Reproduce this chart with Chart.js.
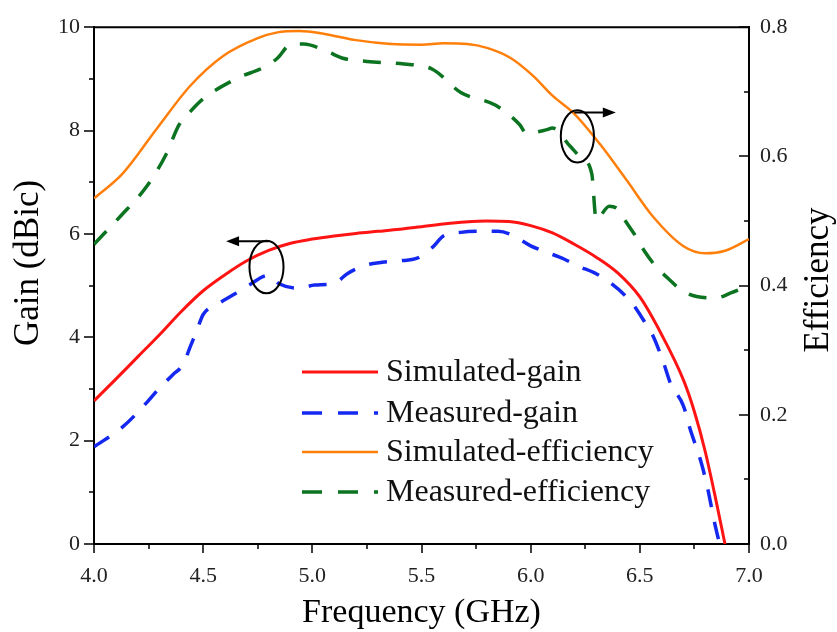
<!DOCTYPE html>
<html>
<head>
<meta charset="utf-8">
<title>Gain and efficiency</title>
<script src="https://cdn.jsdelivr.net/npm/chart.js@4.4.1/dist/chart.umd.min.js"></script>
<style>
  html, body { margin: 0; padding: 0; background: #fff; }
  #chart { display: block; }
</style>
</head>
<body>
<canvas id="chart" width="837" height="632"></canvas>
<script>
// simulated gain (dBic)
const simGainFreq = [4.0, 4.1, 4.2, 4.3, 4.4, 4.5, 4.6, 4.7, 4.8, 4.9, 5.0, 5.1, 5.2, 5.3, 5.4, 5.5, 5.6, 5.7, 5.8, 5.9,
  6.0, 6.1, 6.2, 6.3, 6.4, 6.5, 6.6, 6.7, 6.75, 6.8, 6.85, 6.89];
const simGain = [2.77, 3.19, 3.62, 4.05, 4.50, 4.90, 5.21, 5.48, 5.68, 5.82, 5.90, 5.96, 6.01, 6.05, 6.09, 6.14, 6.19, 6.23, 6.25, 6.24,
  6.16, 6.02, 5.80, 5.55, 5.24, 4.78, 4.05, 3.17, 2.56, 1.78, 0.82, 0.0];

// measured gain (dBic)
const measGainFreq = [4.0, 4.13, 4.24, 4.3, 4.36, 4.41, 4.44, 4.47, 4.5, 4.57, 4.65, 4.71, 4.8, 4.85, 4.94, 5.01, 5.1, 5.16,
  5.24, 5.32, 5.4, 5.48, 5.55, 5.6, 5.68, 5.77, 5.85, 5.91, 6.0, 6.07, 6.15, 6.21, 6.3, 6.36, 6.43, 6.47, 6.52, 6.56,
  6.61, 6.64, 6.7, 6.73, 6.78, 6.81, 6.84, 6.865];
const measGain = [1.88, 2.26, 2.73, 3.02, 3.27, 3.49, 3.81, 4.12, 4.44, 4.65, 4.85, 5.01, 5.20, 5.03, 4.95, 5.01, 5.04, 5.23,
  5.39, 5.45, 5.48, 5.53, 5.74, 5.96, 6.03, 6.05, 6.05, 5.99, 5.77, 5.65, 5.52, 5.39, 5.23, 5.07, 4.82, 4.63, 4.31, 4.03,
  3.49, 3.11, 2.67, 2.23, 1.59, 1.09, 0.46, 0.0];

// simulated radiation efficiency
const simEffFreq = [4.0, 4.13, 4.29, 4.44, 4.59, 4.75, 4.84, 4.94, 5.05, 5.2, 5.36, 5.5, 5.6, 5.71, 5.8, 5.91, 6.01, 6.1,
  6.2, 6.32, 6.44, 6.56, 6.7, 6.8, 6.89, 7.0];
const simEff = [0.535, 0.573, 0.644, 0.709, 0.755, 0.783, 0.792, 0.794, 0.790, 0.780, 0.774, 0.773, 0.775, 0.774, 0.768, 0.752,
  0.725, 0.694, 0.666, 0.618, 0.563, 0.507, 0.461, 0.450, 0.454, 0.472];

// measured radiation efficiency
const measEffFreq = [4.0, 4.12, 4.24, 4.33, 4.39, 4.44, 4.5, 4.65, 4.79, 4.84, 4.9, 4.96, 5.07, 5.14, 5.25, 5.42, 5.55, 5.68,
  5.84, 5.95, 5.98, 6.07, 6.1, 6.18, 6.23, 6.28, 6.3, 6.36, 6.4, 6.43, 6.48, 6.52, 6.58, 6.63, 6.69, 6.76, 6.85, 6.92, 7.0];
const measEff = [0.464, 0.507, 0.553, 0.603, 0.649, 0.669, 0.689, 0.720, 0.740, 0.752, 0.773, 0.774, 0.762, 0.752, 0.747, 0.743,
  0.735, 0.699, 0.679, 0.649, 0.636, 0.641, 0.644, 0.616, 0.598, 0.573, 0.502, 0.523, 0.518, 0.502, 0.477, 0.454, 0.427,
  0.411, 0.393, 0.383, 0.381, 0.389, 0.400];

// axis ticks
const freqTicks = [4.0, 4.5, 5.0, 5.5, 6.0, 6.5, 7.0];
const gainTicks = [0, 2, 4, 6, 8, 10];
const effTicks = [0, 0.2, 0.4, 0.6, 0.8];

// ellipse + arrow markers pointing at the axis each pair belongs to
const markers = [
  { axis: 'y', cx: 4.79, cy: 5.36, rx: 0.078, ry: 0.51, arrowY: 5.86, arrowFrom: 4.80, arrowTo: 4.605 },
  { axis: 'y2', cx: 6.214, cy: 0.631, rx: 0.076, ry: 0.0405, arrowY: 0.668, arrowFrom: 6.20, arrowTo: 6.39 }
];

const serif = '"Liberation Serif", "Times New Roman", serif';
const lineDash = [18, 15];
const legendDash = [20, 16];

function pairs(xs, ys) {
  return xs.map((x, i) => ({ x: x, y: ys[i] }));
}

function drawArrow(ctx, x1, y, x2) {
  const dir = Math.sign(x2 - x1);
  ctx.beginPath();
  ctx.moveTo(x1, y);
  ctx.lineTo(x2 - dir * 8, y);
  ctx.stroke();
  ctx.beginPath();
  ctx.moveTo(x2, y);
  ctx.lineTo(x2 - dir * 13, y - 5);
  ctx.lineTo(x2 - dir * 13, y + 5);
  ctx.closePath();
  ctx.fill();
}

const frameAndTicks = {
  id: 'frameAndTicks',
  afterDraw(chart) {
    const { ctx, chartArea: a, scales } = chart;
    ctx.save();
    ctx.strokeStyle = '#000';
    ctx.fillStyle = '#000';
    ctx.lineWidth = 2;

    // top edge of the frame
    ctx.beginPath();
    ctx.moveTo(a.left - 1, a.top);
    ctx.lineTo(a.right + 1, a.top);
    ctx.stroke();

    ctx.lineWidth = 1.5;
    ctx.beginPath();
    // frequency ticks, outward
    for (let i = 0; i <= 12; i++) {
      const px = Math.round(scales.x.getPixelForValue(4 + i * 0.25));
      ctx.moveTo(px, a.bottom);
      ctx.lineTo(px, a.bottom + (i % 2 === 0 ? 9 : 5));
    }
    // gain ticks, outward
    for (let i = 0; i <= 10; i++) {
      const py = Math.round(scales.y.getPixelForValue(i));
      ctx.moveTo(a.left, py);
      ctx.lineTo(a.left - (i % 2 === 0 ? 10 : 5), py);
    }
    // efficiency ticks, inward
    for (let i = 0; i <= 8; i++) {
      const py = Math.round(scales.y2.getPixelForValue(i * 0.1));
      ctx.moveTo(a.right, py);
      ctx.lineTo(a.right - (i % 2 === 0 ? 10 : 5), py);
    }
    ctx.stroke();

    // ellipses and arrows
    ctx.lineWidth = 2;
    markers.forEach(m => {
      const ys = scales[m.axis];
      const cx = scales.x.getPixelForValue(m.cx);
      const cy = ys.getPixelForValue(m.cy);
      const rx = Math.abs(scales.x.getPixelForValue(m.cx + m.rx) - cx);
      const ry = Math.abs(ys.getPixelForValue(m.cy + m.ry) - cy);
      ctx.beginPath();
      ctx.ellipse(cx, cy, rx, ry, 0, 0, Math.PI * 2);
      ctx.stroke();
      drawArrow(ctx, scales.x.getPixelForValue(m.arrowFrom), ys.getPixelForValue(m.arrowY),
        scales.x.getPixelForValue(m.arrowTo));
    });

    // vertical axis titles, both reading bottom to top
    ctx.font = '35px ' + serif;
    ctx.textAlign = 'center';
    ctx.textBaseline = 'middle';
    ctx.save();
    ctx.translate(29, 263);
    ctx.rotate(-Math.PI / 2);
    ctx.fillText('Gain (dBic)', 0, 0);
    ctx.restore();
    ctx.save();
    ctx.translate(819, 280);
    ctx.rotate(-Math.PI / 2);
    ctx.fillText('Efficiency', 0, 0);
    ctx.restore();

    ctx.restore();
  }
};

// legend inside the plot, lower middle
const innerLegend = {
  id: 'innerLegend',
  afterDraw(chart) {
    const { ctx } = chart;
    const rows = [372, 413, 452, 492];
    ctx.save();
    ctx.font = '32px ' + serif;
    ctx.textBaseline = 'middle';
    ctx.textAlign = 'left';
    chart.data.datasets.forEach((ds, i) => {
      const y = rows[i];
      ctx.strokeStyle = ds.borderColor;
      ctx.lineWidth = ds.borderWidth;
      ctx.setLineDash(ds.borderDash ? legendDash : []);
      ctx.beginPath();
      ctx.moveTo(302, y);
      ctx.lineTo(378, y);
      ctx.stroke();
      ctx.setLineDash([]);
      ctx.fillStyle = '#111';
      ctx.fillText(ds.label, 386, y + 1);
    });
    ctx.restore();
  }
};

const tickFont = { family: serif, size: 22 };

new Chart(document.getElementById('chart'), {
  type: 'line',
  data: {
    datasets: [
      {
        label: 'Simulated-gain',
        data: pairs(simGainFreq, simGain),
        yAxisID: 'y',
        borderColor: '#ff1414',
        borderWidth: 3
      },
      {
        label: 'Measured-gain',
        data: pairs(measGainFreq, measGain),
        yAxisID: 'y',
        borderColor: '#1428f0',
        borderWidth: 3.5,
        borderDash: lineDash
      },
      {
        label: 'Simulated-efficiency',
        data: pairs(simEffFreq, simEff),
        yAxisID: 'y2',
        borderColor: '#ff7f0a',
        borderWidth: 2.5
      },
      {
        label: 'Measured-efficiency',
        data: pairs(measEffFreq, measEff),
        yAxisID: 'y2',
        borderColor: '#0c7420',
        borderWidth: 3.5,
        borderDash: lineDash
      }
    ]
  },
  options: {
    responsive: false,
    animation: false,
    devicePixelRatio: 1,
    layout: { padding: { top: 17 } },
    elements: {
      point: { radius: 0 },
      line: { cubicInterpolationMode: 'monotone', fill: false }
    },
    plugins: {
      legend: { display: false },
      tooltip: { enabled: false }
    },
    scales: {
      x: {
        type: 'linear',
        min: 4,
        max: 7,
        afterFit: s => { s.height = 88; },
        afterBuildTicks: s => { s.ticks = freqTicks.map(v => ({ value: v })); },
        grid: { display: false, drawTicks: false },
        border: { display: true, color: '#000', width: 2 },
        ticks: { font: tickFont, color: '#222', padding: 19, maxRotation: 0, autoSkip: false,
          callback: v => v.toFixed(1) },
        title: { display: true, text: 'Frequency (GHz)', color: '#000',
          font: { family: serif, size: 34, lineHeight: 1.1 }, padding: { top: 0, bottom: 0 } }
      },
      y: {
        position: 'left',
        min: 0,
        max: 10,
        afterFit: s => { s.width = 94; },
        afterBuildTicks: s => { s.ticks = gainTicks.map(v => ({ value: v })); },
        grid: { display: false, drawTicks: false },
        border: { display: true, color: '#000', width: 2 },
        ticks: { font: tickFont, color: '#222', padding: 14, callback: v => String(v) }
      },
      y2: {
        position: 'right',
        min: 0,
        max: 0.8,
        afterFit: s => { s.width = 88; },
        afterBuildTicks: s => { s.ticks = effTicks.map(v => ({ value: v })); },
        grid: { display: false, drawTicks: false },
        border: { display: true, color: '#000', width: 2 },
        ticks: { font: tickFont, color: '#222', padding: 11, callback: v => v.toFixed(1) }
      }
    }
  },
  plugins: [frameAndTicks, innerLegend]
});
</script>
</body>
</html>
